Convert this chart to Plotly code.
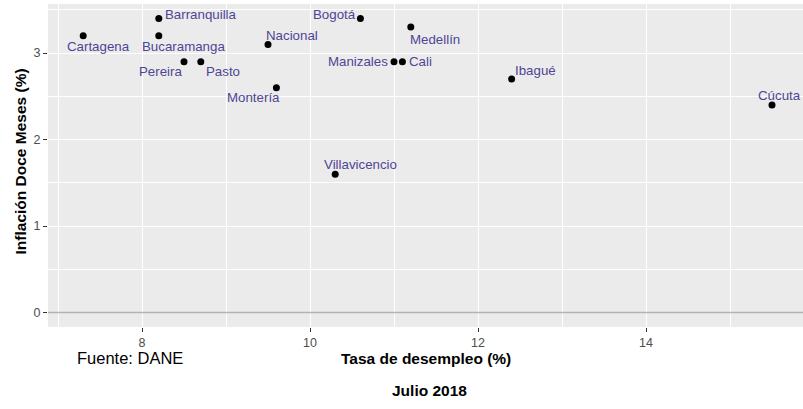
import plotly.graph_objects as go

# ---- data ----
ciudades = ["Cartagena", "Barranquilla", "Bucaramanga", "Pereira", "Pasto",
            "Nacional", "Montería", "Bogotá", "Medellín", "Manizales", "Cali",
            "Ibagué", "Cúcuta", "Villavicencio"]
desempleo = [7.3, 8.2, 8.2, 8.5, 8.7, 9.5, 9.6, 10.6, 11.2, 11.0, 11.1, 12.4, 15.5, 10.3]
inflacion = [3.2, 3.4, 3.2, 2.9, 2.9, 3.1, 2.6, 3.4, 3.3, 2.9, 2.9, 2.7, 2.4, 1.6]
linea_ref = 0

# ---- label placement (pixel offsets, styling only) ----
label_dx = [15, 42, 25, -24, 22, 24, -23, -26, 24, -36, 18, 24, 7, 25]
label_dy = [11, -4, 11, 10, 10, -9, 10, -4, 12, 0, 0, -9, -9, -10]

FONT = "Liberation Sans, Arial, sans-serif"
LABEL_COLOR = "#4f4596"

fig = go.Figure()
fig.add_trace(go.Scatter(
    x=desempleo, y=inflacion, mode="markers",
    marker=dict(color="black", size=7),
    hoverinfo="text", text=ciudades, showlegend=False))

annotations = []
for c, xv, yv, dx, dy in zip(ciudades, desempleo, inflacion, label_dx, label_dy):
    annotations.append(dict(x=xv, y=yv, xref="x", yref="y", text=c, showarrow=False,
                            xshift=dx, yshift=-dy,
                            font=dict(family=FONT, size=13.3, color=LABEL_COLOR)))

annotations += [
    dict(text="<b>Tasa de desempleo (%)</b>", xref="paper", yref="paper", x=0.5, y=-0.097,
         xanchor="center", yanchor="middle", showarrow=False,
         font=dict(family=FONT, size=15.5, color="black")),
    dict(text="<b>Julio 2018</b>", xref="paper", yref="paper", x=0.505, y=-0.198,
         xanchor="center", yanchor="middle", showarrow=False,
         font=dict(family=FONT, size=15.5, color="black")),
    dict(text="Fuente: DANE", xref="paper", yref="paper", x=0.036, y=-0.097,
         xanchor="left", yanchor="middle", showarrow=False,
         font=dict(family=FONT, size=16.5, color="black")),
    dict(text="<b>Inflación Doce Meses (%)</b>", xref="paper", yref="paper", x=-0.036, y=0.512,
         xanchor="center", yanchor="middle", showarrow=False, textangle=-90,
         font=dict(family=FONT, size=15.5, color="black")),
]

fig.update_layout(
    width=803, height=409,
    margin=dict(l=48, r=0, t=4, b=82),
    plot_bgcolor="#EBEBEB", paper_bgcolor="white",
    font=dict(family=FONT),
    annotations=annotations,
    xaxis=dict(range=[6.881, 15.869], tick0=0, dtick=2, showgrid=True,
               gridcolor="white", gridwidth=1.3, zeroline=False,
               ticks="outside", ticklen=4, tickcolor="#333333", tickwidth=1,
               tickfont=dict(family=FONT, size=12.5, color="#4D4D4D"),
               minor=dict(dtick=1, tick0=0, showgrid=True, gridcolor="white", gridwidth=0.6),
               showline=False),
    yaxis=dict(range=[-0.167, 3.567], tick0=0, dtick=1, showgrid=True,
               gridcolor="white", gridwidth=1.3,
               zeroline=False,
               ticks="outside", ticklen=4, tickcolor="#333333", tickwidth=1,
               tickfont=dict(family=FONT, size=12.5, color="#4D4D4D"),
               minor=dict(dtick=0.5, tick0=0, showgrid=True, gridcolor="white", gridwidth=0.6),
               showline=False),
    shapes=[dict(type="line", xref="paper", yref="y", x0=0, x1=1, y0=linea_ref, y1=linea_ref,
                 line=dict(color="#B3B3B3", width=1.6), layer="above")],
)

fig.write_html("out.html", config={"displayModeBar": False},
               post_script="document.body.style.margin='0';document.body.style.overflow='hidden';")
